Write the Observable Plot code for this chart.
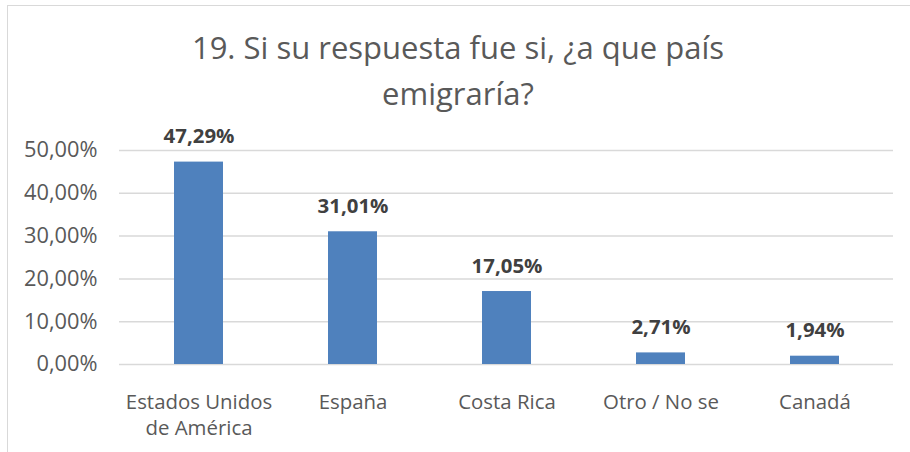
<!DOCTYPE html>
<html>
<head>
<meta charset="utf-8">
<script src="https://cdn.jsdelivr.net/npm/d3@7"></script>
<script src="https://cdn.jsdelivr.net/npm/@observablehq/plot@0.6"></script>
<style>
  html, body { margin: 0; padding: 0; background: #fff; }
  #wrap { position: relative; width: 910px; height: 452px; overflow: hidden; background: #fff; font-family: "Open Sans", sans-serif; }
  #frame { position: absolute; left: 7px; top: 5px; width: 920px; height: 470px; border: 1.5px solid #d9d9d9; box-sizing: border-box; pointer-events: none; }
  #title { position: relative; box-sizing: border-box; height: 120px; padding-top: 25px; text-align: center; font-size: 31px; line-height: 45.5px; color: #595959; padding-left: 6px; white-space: nowrap; }
  #chart svg { display: block; }
</style>
</head>
<body>
<div id="wrap">
  <div id="frame"></div>
  <div id="title">19. Si su respuesta fue si, ¿a que país<br>emigraría?</div>
  <div id="chart"></div>
</div>
<script>
const categories = ["Estados Unidos\nde América", "España", "Costa Rica", "Otro / No se", "Canadá"];
const values = [47.29, 31.01, 17.05, 2.71, 1.94];
const yTicks = [0, 10, 20, 30, 40, 50];

const data = categories.map((c, i) => ({category: c, value: values[i]}));
const fmt = v => v.toFixed(2).replace(".", ",") + "%";

const chart = Plot.plot({
  width: 910,
  height: 332,
  marginTop: 30,
  marginBottom: 88,
  marginLeft: 119,
  marginRight: 17,
  style: {fontFamily: "'Open Sans', sans-serif", fontSize: "20.4px", color: "#595959", background: "transparent"},
  x: {domain: categories, paddingInner: 0.685, paddingOuter: 0.3425, align: 0.5, label: null},
  y: {domain: [0, 50], ticks: yTicks, label: null},
  marks: [
    Plot.ruleY(yTicks, {stroke: "#d9d9d9", strokeWidth: 1.5}),
    Plot.barY(data, {x: "category", y: "value", fill: "#4f81bd"}),
    Plot.text(data, {x: "category", y: "value", text: d => fmt(d.value), lineAnchor: "bottom", dy: -19, fill: "#404040", fontWeight: "bold", fontSize: 20.4}),
    Plot.axisY({ticks: yTicks, tickFormat: fmt, tickSize: 0, tickPadding: 22, label: null, fontSize: 21.8}),
    Plot.axisX({tickSize: 0, tickPadding: 26.5, label: null, lineHeight: 1.27})
  ]
});
document.getElementById("chart").appendChild(chart);
</script>
</body>
</html>
